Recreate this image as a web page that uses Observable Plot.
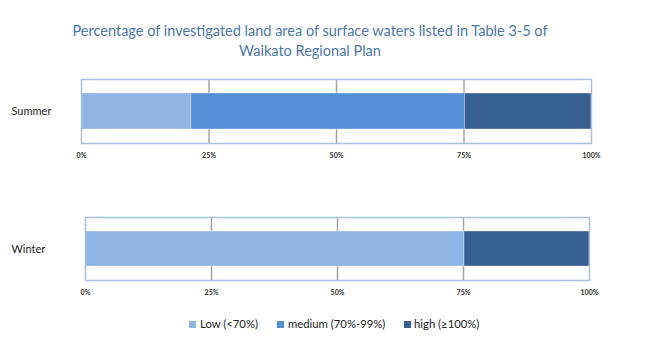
<!DOCTYPE html>
<html>
<head>
<meta charset="utf-8">
<script src="https://cdn.jsdelivr.net/npm/d3@7"></script>
<script src="https://cdn.jsdelivr.net/npm/@observablehq/plot@0.6"></script>
<style>
  html, body { margin: 0; padding: 0; background: #fff; }
  #root { position: relative; width: 650px; height: 360px; overflow: hidden; font-family: Lato, "Open Sans", sans-serif; }
  #title { position: absolute; left: 0; width: 620px; top: 21px; text-align: center; color: #4a78b0; font-size: 14.5px; line-height: 20px; }
  .panel { position: absolute; left: 0; }
  #legend { position: absolute; top: 317px; left: 0; width: 650px; height: 14px; font-size: 11.3px; color: #222; }
  .item { position: absolute; top: 0; height: 14px; line-height: 14px; white-space: nowrap; }
  .sw { position: absolute; top: 3.5px; width: 7px; height: 7px; }
</style>
</head>
<body>
<div id="root">
  <div id="title">Percentage of investigated land area of surface waters listed in Table 3-5 of<br>Waikato Regional Plan</div>
  <div id="p1" class="panel" style="top:70px"></div>
  <div id="p2" class="panel" style="top:208px"></div>
  <div id="legend"></div>
</div>
<script>
// ---- data ----
const categories = ["Low (<70%)", "medium (70%-99%)", "high (≥100%)"];
const colors = ["#8eb4e3", "#558ed5", "#376092"];
const seasons = ["Summer", "Winter"];
const summerValues = [21.5, 53.7, 24.8];
const winterValues = [75.2, 0, 24.8];
const tickValues = [0, 25, 50, 75, 100];
const tickLabels = ["0%", "25%", "50%", "75%", "100%"];

function rows(season, values) {
  return categories.map((c, i) => ({season, category: c, value: values[i]}));
}

function panel(season, values, opts) {
  return Plot.plot({
    width: 650,
    height: opts.height,
    marginLeft: opts.left,
    marginRight: opts.right,
    marginTop: 9,
    marginBottom: opts.bottom,
    style: {fontFamily: "Lato, 'Open Sans', sans-serif", background: "white", overflow: "visible"},
    x: {domain: [0, 100], ticks: tickValues, tickFormat: (d) => tickLabels[tickValues.indexOf(d)]},
    y: {domain: [season], padding: 0.28},
    color: {domain: categories, range: colors},
    marks: [
      Plot.gridX(tickValues.slice(1, -1), {stroke: "#a3a3a3", strokeOpacity: 1, strokeWidth: 1.5}),
      Plot.barX(rows(season, values), Plot.stackX({
        x: "value", y: "season", fill: "category", order: categories,
        stroke: "#ffffff", strokeOpacity: 0.35, strokeWidth: 1
      })),
      Plot.frame({stroke: "#a6bfe0", strokeWidth: 1.5}),
      Plot.axisX({ticks: tickValues, tickFormat: (d) => tickLabels[tickValues.indexOf(d)], tickSize: 0, tickPadding: 9.5, fontSize: 7, fontWeight: "bold", fill: "#333", label: null}),
      Plot.axisY({tickSize: 0, textAnchor: "start", dx: -(opts.left - 11), tickPadding: 0, fontSize: 11, fill: "#222", label: null})
    ]
  });
}

document.getElementById("p1").appendChild(panel("Summer", summerValues, {height: 94, left: 81, right: 59, bottom: 21}));
document.getElementById("p2").appendChild(panel("Winter", winterValues, {height: 93, left: 85, right: 61, bottom: 21}));

// legend
const legendPos = [[189, 200], [277, 288], [404, 414]];
const lg = document.getElementById("legend");
categories.forEach((c, i) => {
  const sw = document.createElement("div");
  sw.className = "sw";
  sw.style.left = legendPos[i][0] + "px";
  sw.style.background = colors[i];
  lg.appendChild(sw);
  const t = document.createElement("div");
  t.className = "item";
  t.style.left = legendPos[i][1] + "px";
  t.textContent = c;
  lg.appendChild(t);
});
</script>
</body>
</html>
